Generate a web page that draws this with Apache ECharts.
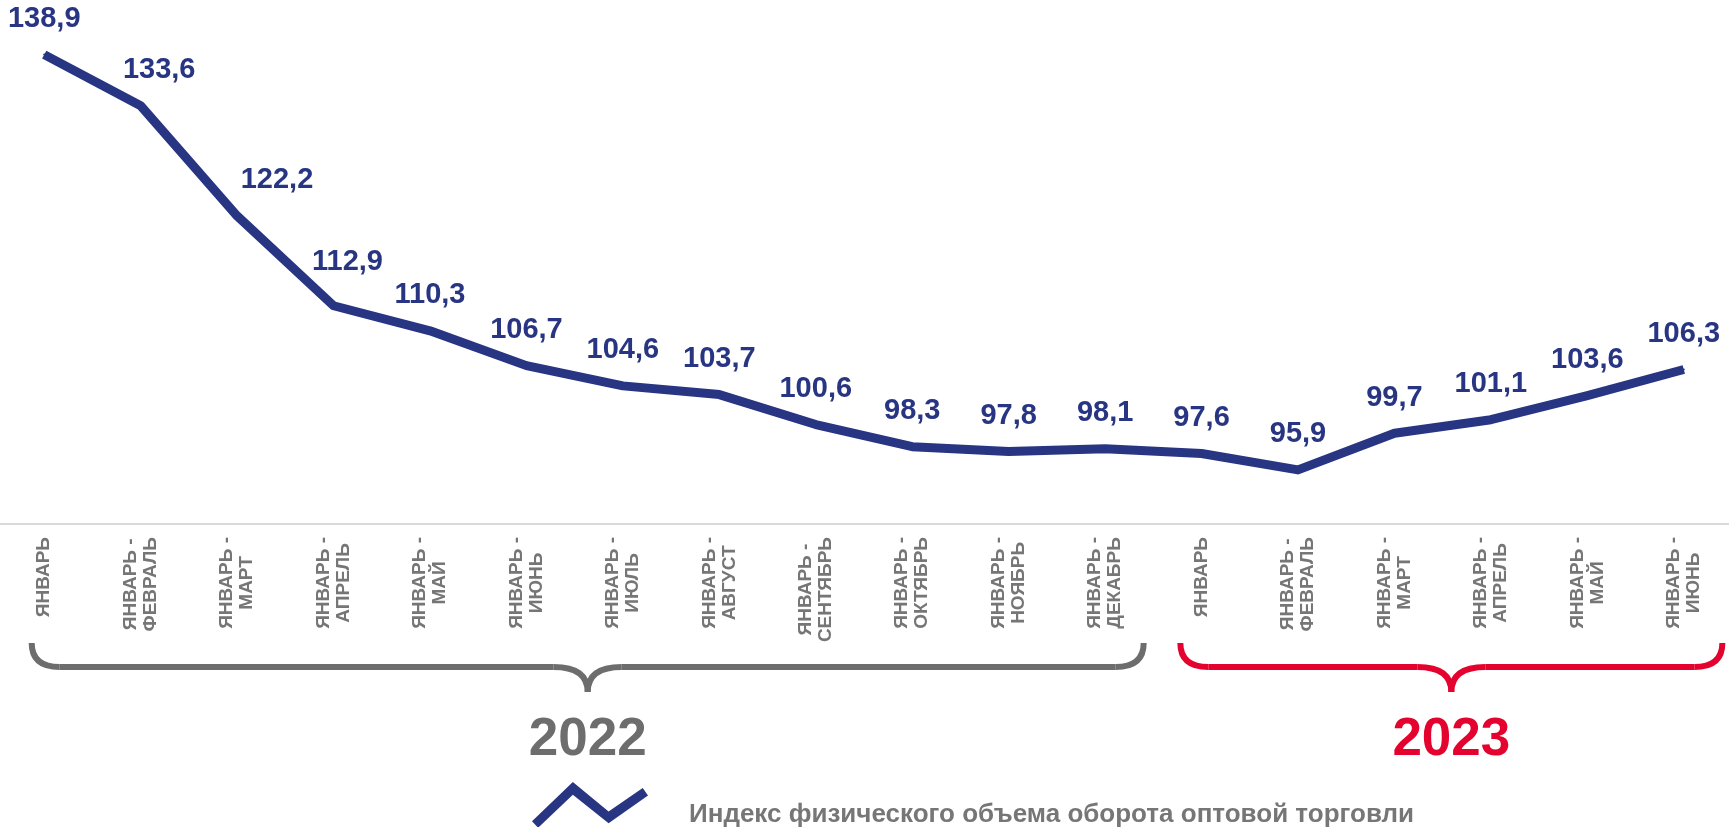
<!DOCTYPE html>
<html>
<head>
<meta charset="utf-8">
<title>Индекс физического объема оборота оптовой торговли</title>
<script src="https://cdn.jsdelivr.net/npm/echarts@6/dist/echarts.min.js"></script>
<style>
	html, body { margin: 0; padding: 0; background: #fff; }
	#main { width: 1729px; height: 827px; }
</style>
</head>
<body>
<div id="main"></div>
<script>
	// периоды (накопительно с начала года)
	var periods = [
		'ЯНВАРЬ', 'ЯНВАРЬ - ФЕВРАЛЬ', 'ЯНВАРЬ - МАРТ', 'ЯНВАРЬ - АПРЕЛЬ', 'ЯНВАРЬ - МАЙ', 'ЯНВАРЬ - ИЮНЬ',
		'ЯНВАРЬ - ИЮЛЬ', 'ЯНВАРЬ - АВГУСТ', 'ЯНВАРЬ - СЕНТЯБРЬ', 'ЯНВАРЬ - ОКТЯБРЬ', 'ЯНВАРЬ - НОЯБРЬ', 'ЯНВАРЬ - ДЕКАБРЬ',
		'ЯНВАРЬ', 'ЯНВАРЬ - ФЕВРАЛЬ', 'ЯНВАРЬ - МАРТ', 'ЯНВАРЬ - АПРЕЛЬ', 'ЯНВАРЬ - МАЙ', 'ЯНВАРЬ - ИЮНЬ'
	];
	var indexValues = [138.9, 133.6, 122.2, 112.9, 110.3, 106.7, 104.6, 103.7, 100.6, 98.3, 97.8, 98.1, 97.6, 95.9, 99.7, 101.1, 103.6, 106.3];
	var seriesName = 'Индекс физического объема оборота оптовой торговли';
	var years = ['2022', '2023'];
	var yearFirst = [0, 12]; // индекс первого периода года
	var yearLast = [11, 17];

	var navy = '#283583';
	var grey = '#767676';
	var yearColors = ['#6d6d6d', '#e4032e'];
	var font = "'Liberation Sans', Arial, sans-serif";

	var chart = echarts.init(document.getElementById('main'));

	//подпись оси: "ЯНВАРЬ -" и месяц в две строки по центру
	function periodLabel(v) {
		var p = v.split(' - ');
		if (p.length == 1) return '{c|' + p[0] + '}';
		return '{c|' + p[0] + ' -}\n{c|' + p[1] + '}';
	}

	//на крутом спуске подпись сдвигается вправо, чтобы не лечь на линию
	function labelShift(params) {
		var i = params.dataIndex;
		if (i == 0 || i == indexValues.length - 1) return {};
		var drop = indexValues[i - 1] - indexValues[i];
		var nextDrop = indexValues[i] - indexValues[i + 1];
		if (drop <= 5) return {};
		if (nextDrop > 5) return { dx: drop * 3.5 };
		return { dx: drop * 1.5, dy: -8 };
	}

	var option = {
		backgroundColor: '#fff',
		animation: false,
		grid: {
			left: -4,
			right: -3,
			top: 44,
			bottom: 303,
			outerBoundsMode: 'none'
		},
		legend: {
			data: [seriesName],
			left: 527,
			top: 777,
			itemWidth: 116,
			itemHeight: 46,
			icon: 'path://M1,39 L41,0.5 L76,29.3 L109.4,6.3 L114.6,13.7 L76,41 L41,13 L7,45.3 Z',
			itemStyle: { borderWidth: 0 },
			formatter: function(name) {
				return '{t|' + name + '}';
			},
			textStyle: {
				rich: {
					t: {
						color: grey,
						fontSize: 26,
						fontWeight: 'bold',
						fontFamily: font,
						padding: [20, 0, 0, 36]
					}
				}
			}
		},
		xAxis: {
			type: 'category',
			data: periods,
			boundaryGap: true,
			axisLine: { lineStyle: { color: '#d9d9d9', width: 2 } },
			axisTick: { show: false },
			axisLabel: {
				interval: 0,
				rotate: 90,
				margin: 13,
				formatter: periodLabel,
				rich: {
					c: {
						align: 'center',
						color: grey,
						fontSize: 19,
						fontWeight: 'bold',
						fontFamily: font,
						lineHeight: 20
					}
				}
			}
		},
		yAxis: {
			type: 'value',
			min: 90.3,
			max: 140,
			show: false,
			splitLine: { show: false }
		},
		series: [{
			name: seriesName,
			type: 'line',
			data: indexValues,
			color: navy,
			symbol: 'circle',
			symbolSize: 2,
			lineStyle: { color: navy, width: 9, join: 'round' },
			label: {
				show: true,
				position: 'top',
				distance: 20,
				color: navy,
				fontSize: 29,
				fontWeight: 'bold',
				fontFamily: font,
				formatter: function(p) {
					return p.value.toFixed(1).replace('.', ',');
				}
			},
			labelLayout: labelShift
		}]
	};
	chart.setOption(option);

	//фигурные скобки под годами
	function brace(x1, x2, color) {
		var xm = (x1 + x2) / 2, yt = 643, yb = 667, yc = 692, r = 28, r2 = 34;
		var st = { stroke: color, lineWidth: 6, fill: null };
		return [
			{ type: 'bezierCurve', shape: { x1: x1, y1: yt, cpx1: x1, cpy1: yb, x2: x1 + r, y2: yb }, style: st },
			{ type: 'line', shape: { x1: x1 + r, y1: yb, x2: xm - r2, y2: yb }, style: st },
			{ type: 'bezierCurve', shape: { x1: xm - r2, y1: yb, cpx1: xm, cpy1: yb, x2: xm, y2: yc }, style: st },
			{ type: 'bezierCurve', shape: { x1: xm, y1: yc, cpx1: xm, cpy1: yb, x2: xm + r2, y2: yb }, style: st },
			{ type: 'line', shape: { x1: xm + r2, y1: yb, x2: x2 - r, y2: yb }, style: st },
			{ type: 'bezierCurve', shape: { x1: x2 - r, y1: yb, cpx1: x2, cpy1: yb, x2: x2, y2: yt }, style: st },
			{
				type: 'text',
				x: xm,
				y: 740,
				style: {
					text: '',
					fill: color,
					font: 'bold 53px ' + font,
					textAlign: 'center',
					textVerticalAlign: 'middle'
				}
			}
		];
	}

	var els = [];
	var step = chart.convertToPixel({ xAxisIndex: 0 }, 1) - chart.convertToPixel({ xAxisIndex: 0 }, 0);
	var padL = [0.13, 0.22], padR = [0.4, 0.4];
	for (var i = 0; i < years.length; i++) {
		var x1 = chart.convertToPixel({ xAxisIndex: 0 }, yearFirst[i]) - step * padL[i];
		var x2 = chart.convertToPixel({ xAxisIndex: 0 }, yearLast[i]) + step * padR[i];
		var b = brace(x1, x2, yearColors[i]);
		b[b.length - 1].style.text = years[i];
		els = els.concat(b);
	}
	chart.setOption({ graphic: { elements: els } });
</script>
</body>
</html>
